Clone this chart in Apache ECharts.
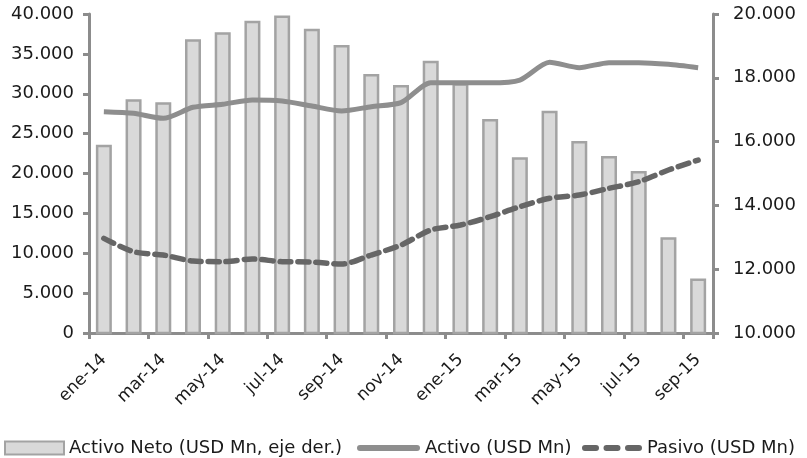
<!DOCTYPE html>
<html>
<head>
<meta charset="utf-8">
<script src="https://cdn.jsdelivr.net/npm/echarts@6/dist/echarts.min.js"></script>
<style>
html, body { margin: 0; padding: 0; background: #fff; }
#chart { width: 807px; height: 458px; }
</style>
</head>
<body>
<div id="chart"></div>
<script>
// Monthly categories, Jan 2014 - Sep 2015
const months = ['ene-14','feb-14','mar-14','abr-14','may-14','jun-14','jul-14','ago-14','sep-14','oct-14','nov-14','dic-14',
                'ene-15','feb-15','mar-15','abr-15','may-15','jun-15','jul-15','ago-15','sep-15'];

// Net assets (right axis, USD Mn)
const activoNeto = [15900, 17330, 17230, 19210, 19430, 19790, 19950, 19540, 19030, 18120, 17775, 18535,
                    17830, 16710, 15510, 16970, 16020, 15550, 15080, 13000, 11710];

// Assets (left axis, USD Mn)
const activo = [27750, 27550, 26920, 28300, 28680, 29210, 29090, 28460, 27840, 28380, 28880, 31380,
                31380, 31380, 31720, 33940, 33270, 33900, 33900, 33690, 33270];

// Liabilities (left axis, USD Mn)
const pasivo = [11870, 10200, 9780, 9030, 8940, 9280, 8940, 8900, 8650, 9780, 11030, 12910,
                13540, 14580, 15830, 16890, 17300, 18140, 18970, 20440, 21690];

const seriesNames = ['Activo Neto (USD Mn, eje der.)', 'Activo (USD Mn)', 'Pasivo (USD Mn)'];

const fontFamily = 'DejaVu Sans';
const textColor = '#1a1a1a';
const axisGray = '#8c8c8c';
const barFill = '#d9d9d9';
const barEdge = '#a3a3a3';
const activoColor = '#8e8e8e';
const pasivoColor = '#666666';
const fmt = v => String(v).replace(/\B(?=(\d{3})+(?!\d))/g, '.');

// Legend keys: a solid rounded stroke and a three-dash stroke
const solidKey = 'path://M3,0H60A3,3 0 0 1 60,6H3A3,3 0 0 1 3,0Z';
const dashKey = 'path://M3,0H14A3,3 0 0 1 14,6H3A3,3 0 0 1 3,0Z' +
                'M24.5,0H35.5A3,3 0 0 1 35.5,6H24.5A3,3 0 0 1 24.5,0Z' +
                'M46,0H57A3,3 0 0 1 57,6H46A3,3 0 0 1 46,0Z';

const legendText = { fontFamily: fontFamily, fontSize: 18, color: textColor };
const legendTop = 439;

const chart = echarts.init(document.getElementById('chart'), null, { renderer: 'canvas' });
chart.setOption({
  animation: false,
  textStyle: { fontFamily: fontFamily },
  grid: { left: 89, right: 94, top: 14, bottom: 125, containLabel: false },
  legend: [
    {
      left: 4, top: legendTop, padding: 0, itemWidth: 59, itemHeight: 13,
      textStyle: legendText,
      data: [{ name: seriesNames[0], icon: 'rect' }]
    },
    {
      left: 357, top: legendTop, padding: 0, itemWidth: 63, itemHeight: 6,
      textStyle: legendText,
      itemStyle: { borderWidth: 0 },
      lineStyle: { width: 6, type: 'solid', cap: 'round' },
      data: [{ name: seriesNames[1], icon: solidKey }]
    },
    {
      left: 582, top: legendTop, padding: 0, itemWidth: 60, itemHeight: 6,
      textStyle: legendText,
      itemStyle: { borderWidth: 0 },
      lineStyle: { width: 6, type: [12, 9.5], cap: 'round' },
      data: [{ name: seriesNames[2], icon: dashKey }]
    }
  ],
  xAxis: {
    type: 'category',
    data: months,
    boundaryGap: true,
    axisLine: { lineStyle: { color: axisGray, width: 3 } },
    axisTick: { show: true, interval: 1, length: 6, lineStyle: { color: axisGray, width: 3 } },
    axisLabel: { interval: 1, rotate: 45, margin: 24, fontSize: 17, color: textColor, fontFamily: fontFamily },
    splitLine: { show: false }
  },
  yAxis: [
    {
      type: 'value', position: 'left', min: 0, max: 40000, interval: 5000,
      axisLine: { show: true, lineStyle: { color: axisGray, width: 3 } },
      axisTick: { show: true, length: 6, lineStyle: { color: axisGray, width: 3 } },
      axisLabel: { fontSize: 18, color: textColor, margin: 15, formatter: fmt },
      splitLine: { show: false }
    },
    {
      type: 'value', position: 'right', min: 10000, max: 20000, interval: 2000,
      axisLine: { show: true, lineStyle: { color: axisGray, width: 3 } },
      axisTick: { show: true, length: 6, lineStyle: { color: axisGray, width: 3 } },
      axisLabel: { fontSize: 18, color: textColor, margin: 20, formatter: fmt },
      splitLine: { show: false }
    }
  ],
  series: [
    {
      name: seriesNames[0], type: 'bar', yAxisIndex: 1, data: activoNeto,
      barWidth: 16, clip: true, z: 1,
      itemStyle: { color: barFill, borderColor: barEdge, borderWidth: 2.5 }
    },
    {
      name: seriesNames[1], type: 'line', yAxisIndex: 0, data: activo,
      smooth: 0.25, symbol: 'none', z: 3,
      lineStyle: { color: activoColor, width: 5 },
      itemStyle: { color: activoColor }
    },
    {
      name: seriesNames[2], type: 'line', yAxisIndex: 0, data: pasivo,
      smooth: 0.3, symbol: 'none', z: 4,
      lineStyle: { color: pasivoColor, width: 5.5, type: [11, 7], cap: 'round' },
      itemStyle: { color: pasivoColor }
    }
  ]
});
</script>
</body>
</html>
